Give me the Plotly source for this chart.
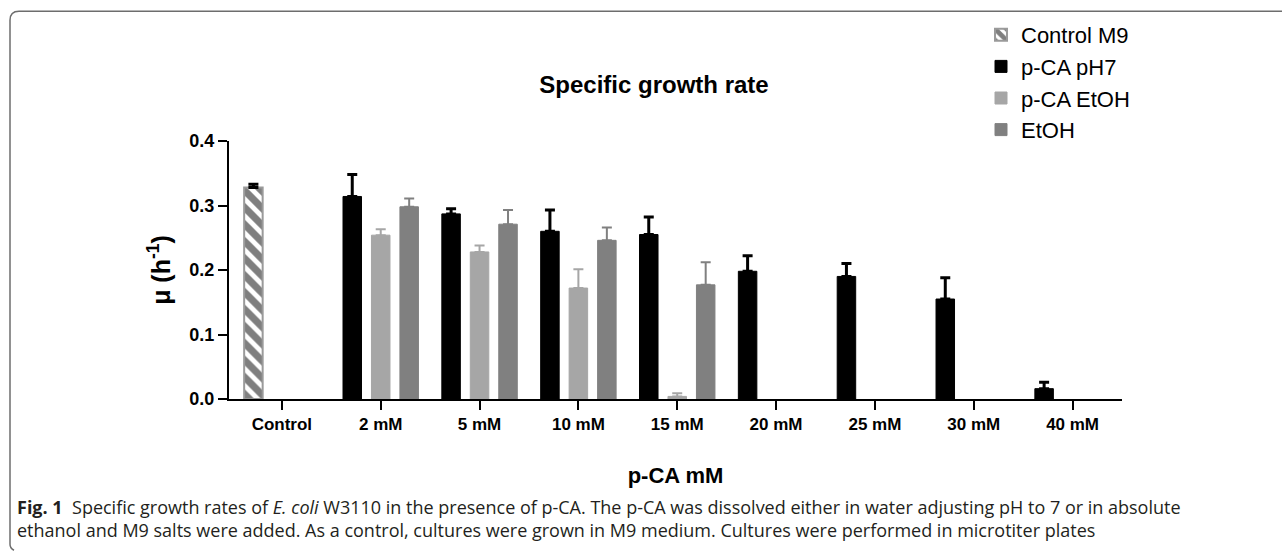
import plotly.graph_objects as go

# Concentration groups on the x axis
categories = ["Control", "2 mM", "5 mM", "10 mM", "15 mM", "20 mM", "25 mM", "30 mM", "40 mM"]

# Specific growth rate (h^-1), mean and upper SD
control_x = ["Control"]
control_mu = [0.328]
control_err = [0.005]

ph7_x = ["2 mM", "5 mM", "10 mM", "15 mM", "20 mM", "25 mM", "30 mM", "40 mM"]
ph7_mu = [0.314, 0.287, 0.260, 0.255, 0.198, 0.190, 0.155, 0.016]
ph7_err = [0.034, 0.008, 0.033, 0.027, 0.024, 0.020, 0.033, 0.010]

etoh_pca_x = ["2 mM", "5 mM", "10 mM", "15 mM"]
etoh_pca_mu = [0.254, 0.228, 0.172, 0.004]
etoh_pca_err = [0.009, 0.010, 0.029, 0.005]

etoh_x = ["2 mM", "5 mM", "10 mM", "15 mM"]
etoh_mu = [0.298, 0.271, 0.246, 0.177]
etoh_err = [0.013, 0.022, 0.020, 0.035]

y_ticks = [0.0, 0.1, 0.2, 0.3, 0.4]

# Page geometry (pixels)
W, H = 1282, 552
L, R, T, B = 229, 1122, 141, 399.5


def px(x):
    return (x - L) / (R - L)


def py(y):
    return (B - y) / (B - T)


BLACK = "#000000"
LIGHT = "#a6a6a6"
DARK = "#808080"
ARIAL = "Liberation Sans, Arial, sans-serif"


def err(vals, color, thick):
    return dict(type="data", array=vals, arrayminus=[0] * len(vals), symmetric=False,
                color=color, thickness=thick, width=5)


fig = go.Figure()
fig.add_trace(go.Bar(
    x=control_x, y=control_mu, name="Control M9", offsetgroup="a",
    marker=dict(color="white", line=dict(color="#9a9a9a", width=2),
                pattern=dict(shape="\\", fgcolor=BLACK, bgcolor="white", size=12, solidity=0.6)),
    error_y=err(control_err, BLACK, 3),
))
fig.add_trace(go.Bar(
    x=ph7_x, y=ph7_mu, name="p-CA pH7", offsetgroup="a",
    marker=dict(color=BLACK, line=dict(color=BLACK, width=1)),
    error_y=err(ph7_err, BLACK, 3),
))
fig.add_trace(go.Bar(
    x=etoh_pca_x, y=etoh_pca_mu, name="p-CA EtOH", offsetgroup="b",
    marker=dict(color=LIGHT, line=dict(color=LIGHT, width=1)),
    error_y=err(etoh_pca_err, LIGHT, 2),
))
fig.add_trace(go.Bar(
    x=etoh_x, y=etoh_mu, name="EtOH", offsetgroup="c",
    marker=dict(color=DARK, line=dict(color=DARK, width=1)),
    error_y=err(etoh_err, DARK, 2),
))

TICK_FONT = dict(family=ARIAL, size=18, color=BLACK, weight="bold")

fig.update_layout(
    width=W, height=H,
    margin=dict(l=L, r=W - R, t=T, b=H - B, pad=0, autoexpand=False),
    paper_bgcolor="white", plot_bgcolor="white",
    barmode="group", bargap=0.136, bargroupgap=0.35,
    font=dict(family=ARIAL, color=BLACK),
    title=dict(text="<b>Specific growth rate</b>", x=654 / W, xanchor="center",
               y=1 - 85 / H, yanchor="middle", yref="container",
               font=dict(family=ARIAL, size=24, color=BLACK)),
    legend=dict(x=981 / W, xref="container", xanchor="left",
                y=1 - 14 / H, yref="container", yanchor="top",
                font=dict(family=ARIAL, size=22, color=BLACK), tracegroupgap=0,
                bgcolor="rgba(0,0,0,0)", itemwidth=30),
    showlegend=True,
)

fig.update_xaxes(
    type="category", categoryorder="array", categoryarray=categories,
    range=[-0.535, 8.5], showline=True, linecolor=BLACK, linewidth=2,
    ticks="outside", ticklen=9, tickwidth=2, tickcolor=BLACK,
    tickfont=dict(TICK_FONT, size=17), showgrid=False, zeroline=False,
    title=dict(text="<b>p-CA mM</b>", font=dict(family=ARIAL, size=22, color=BLACK), standoff=34),
)
fig.update_yaxes(
    range=[0, 0.4], tickvals=y_ticks, tickformat=".1f",
    showline=True, linecolor=BLACK, linewidth=2,
    ticks="outside", ticklen=9, tickwidth=2, tickcolor=BLACK,
    tickfont=TICK_FONT, showgrid=False, zeroline=False,
    title=dict(text="<b>μ (h<sup>-1</sup>)</b>", font=dict(family=ARIAL, size=25, color=BLACK),
               standoff=12),
)

# Figure frame: left and top border with rounded corners
r = 9
x0, y0, y1 = 10, 11, 549
frame = (f"M {px(x0 + 4)},{py(y1 + 2)} Q {px(x0)},{py(y1)} {px(x0)},{py(y1 - 4)} "
         f"L {px(x0)},{py(y0 + r)} "
         f"Q {px(x0)},{py(y0)} {px(x0 + r)},{py(y0)} L {px(W + 2)},{py(y0)}")
fig.add_shape(type="path", path=frame, xref="paper", yref="paper",
              line=dict(color="#6d6d6d", width=1.5), layer="below")

# Caption
CAP_FONT = dict(family="Open Sans, Noto Sans, sans-serif", size=18, color="#231f20")
caption = ("<b>Fig. 1</b>  Specific growth rates of <i>E. coli</i> W3110 in the presence of p-CA. "
           "The p-CA was dissolved either in water adjusting pH to 7 or in absolute<br>"
           "ethanol and M9 salts were added. As a control, cultures were grown in M9 medium. "
           "Cultures were performed in microtiter plates")
fig.add_annotation(text=caption, xref="paper", yref="paper", x=px(15), y=py(519),
                   xanchor="left", yanchor="middle", align="left", showarrow=False,
                   font=CAP_FONT)

fig.write_html("out.html")
